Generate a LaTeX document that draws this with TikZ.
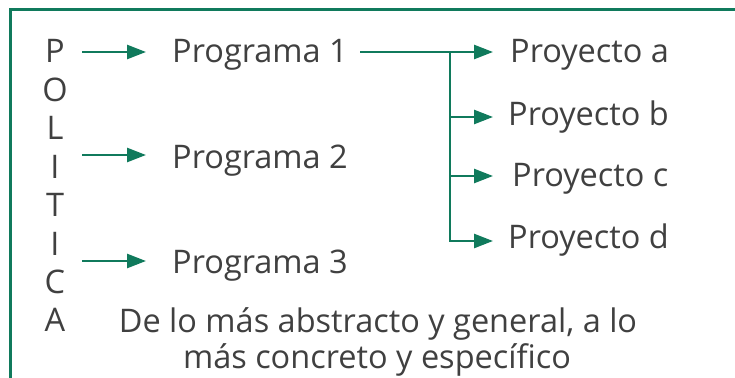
\documentclass[tikz,border=0pt]{standalone}
\usepackage{fontspec}
\setmainfont{Open Sans}
\usetikzlibrary{arrows.meta}
\definecolor{frame}{RGB}{16,122,92}
\definecolor{txt}{RGB}{64,64,64}
\begin{document}
\begin{tikzpicture}[x=1pt,y=-1pt,
  lbl/.style={text=txt,font=\fontsize{32.5}{36}\selectfont,anchor=base west,inner sep=0pt},
  arr/.style={draw=frame,line width=2.6pt,-{Triangle[length=19pt,width=14pt]}},
  ln/.style={draw=frame,line width=2.6pt}]
\useasboundingbox (0,0) rectangle (735,377);
\draw[frame,line width=3pt] (10,400) -- (10,10) -- (745,10);
% POLITICA column
\foreach \l [count=\i from 0] in {P,O,L,I,T,I,C,A}
  \node[lbl,anchor=base] (pol\i) at (55,63+38.4*\i) {\l};
% programas
\node[lbl] (prog1) at (172,63) {Programa 1};
\node[lbl] (prog2) at (172,168) {Programa 2};
\node[lbl] (prog3) at (172,273) {Programa 3};
% proyectos
\node[lbl] (pa) at (510,63) {Proyecto a};
\node[lbl] (pb) at (508,125) {Proyecto b};
\node[lbl] (pc) at (512,186) {Proyecto c};
\node[lbl] (pd) at (508,248) {Proyecto d};
% bottom text
\node[lbl,anchor=base] (t1) at (378,332) {De lo más abstracto y general, a lo};
\node[lbl,anchor=base] (t2) at (377,368) {más concreto y específico};
% arrows to programas
\coordinate (s1) at (82,52);
\coordinate (s2) at (82,155);
\coordinate (s3) at (82,261);
\draw[arr] (s1) -- ([xshift=-26pt]prog1.west |- s1);
\draw[arr] (s2) -- ([xshift=-26pt]prog2.west |- s2);
\draw[arr] (s3) -- ([xshift=-26pt]prog3.west |- s3);
% tree to proyectos
\coordinate (p1e) at ([xshift=12pt]prog1.east |- s1);
\coordinate (br) at (450,52);
\coordinate (tipx) at (493,0);
\coordinate (yb) at (0,117);
\coordinate (yc) at (0,176);
\coordinate (yd) at (0,241);
\draw[arr] (p1e) -- (tipx |- br);
\draw[ln] (br) -- (br |- yd);
\draw[arr] (br |- yb) -- (tipx |- yb);
\draw[arr] (br |- yc) -- (tipx |- yc);
\draw[arr] ([yshift=1.3pt]br |- yd) -- (br |- yd) -- (tipx |- yd);
\end{tikzpicture}
\end{document}
